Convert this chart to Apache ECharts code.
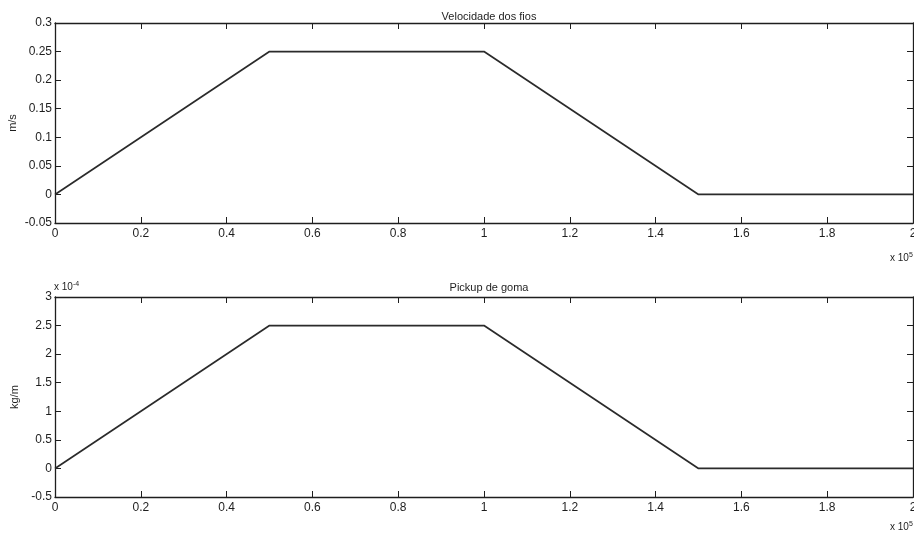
<!DOCTYPE html>
<html>
<head>
<meta charset="utf-8">
<script src="https://cdn.jsdelivr.net/npm/echarts@6/dist/echarts.min.js"></script>
<style>
  html, body { margin: 0; padding: 0; background: #fff; }
  #chart { width: 914px; height: 535px; }
</style>
</head>
<body>
<div id="chart"></div>
<script>
// Time samples (s) and the two profiles
const time = [0, 50000, 100000, 150000, 200000];
const velocity = [0, 0.25, 0.25, 0, 0];          // m/s
const pickup = [0, 2.5e-4, 2.5e-4, 0, 0];        // kg/m

const xTicks = { min: 0, max: 200000, interval: 20000 };
const vTicks = { min: -0.05, max: 0.3, interval: 0.05 };
const pTicks = { min: -0.5e-4, max: 3e-4, interval: 0.5e-4 };

const titles = ['Velocidade dos fios', 'Pickup de goma'];
const yNames = ['m/s', 'kg/m'];

const FONT = 'Liberation Sans, Arial, sans-serif';
const INK = '#1e1e1e';

const chart = echarts.init(document.getElementById('chart'));

const grids = [
  { left: 55, right: 1, top: 23, height: 200, containLabel: false, outerBoundsMode: 'none' },
  { left: 55, right: 1, top: 297, height: 200, containLabel: false, outerBoundsMode: 'none' }
];
const nameGaps = [37, 35];

function fmtNum(v) {
  const r = Math.round(v * 100) / 100;
  return String(r);
}

const xAxes = [];
const yAxes = [];
[0, 1].forEach(function (g) {
  // bottom axis with labels
  xAxes.push({
    type: 'value', gridIndex: g, position: 'bottom',
    min: xTicks.min, max: xTicks.max, interval: xTicks.interval,
    axisLine: { onZero: false, lineStyle: { color: INK, width: 1.3 } },
    axisTick: { inside: true, length: 6, lineStyle: { color: INK } },
    axisLabel: { color: INK, fontFamily: FONT, fontSize: 12, margin: 5,
      formatter: function (v) { return fmtNum(v / 1e5); } },
    splitLine: { show: false }
  });
  // top box edge with ticks only
  xAxes.push({
    type: 'value', gridIndex: g, position: 'top',
    min: xTicks.min, max: xTicks.max, interval: xTicks.interval,
    axisLine: { onZero: false, lineStyle: { color: INK, width: 1.3 } },
    axisTick: { inside: true, length: 6, lineStyle: { color: INK } },
    axisLabel: { show: false },
    splitLine: { show: false }
  });
  const t = g === 0 ? vTicks : pTicks;
  yAxes.push({
    type: 'value', gridIndex: g, position: 'left',
    min: t.min, max: t.max, interval: t.interval,
    name: yNames[g], nameLocation: 'middle', nameGap: nameGaps[g], nameRotate: 90,
    nameMoveOverlap: false,
    nameTextStyle: { color: INK, fontFamily: FONT, fontSize: 11 },
    axisLine: { onZero: false, lineStyle: { color: INK, width: 1.3 } },
    axisTick: { inside: true, length: 6, lineStyle: { color: INK } },
    axisLabel: { color: INK, fontFamily: FONT, fontSize: 12, margin: 3,
      formatter: g === 0
        ? function (v) { return fmtNum(v); }
        : function (v) { return fmtNum(v * 1e4); } },
    splitLine: { show: false }
  });
  yAxes.push({
    type: 'value', gridIndex: g, position: 'right',
    min: t.min, max: t.max, interval: t.interval,
    axisLine: { onZero: false, lineStyle: { color: INK, width: 1.3 } },
    axisTick: { inside: true, length: 6, lineStyle: { color: INK } },
    axisLabel: { show: false },
    splitLine: { show: false }
  });
});

function pairs(xs, ys) { return xs.map(function (x, i) { return [x, ys[i]]; }); }

const lineStyle = { color: '#2b2b2b', width: 1.7 };

const expStyle = {
  b: { fontFamily: FONT, fontSize: 10, fill: INK },
  s: { fontFamily: FONT, fontSize: 7, fill: INK, verticalAlign: 'top', padding: [0, 0, 6, 0] }
};

chart.setOption({
  backgroundColor: '#ffffff',
  animation: false,
  title: [
    { text: titles[0], left: 484, top: 6, textAlign: 'center',
      textStyle: { fontFamily: FONT, fontSize: 11, fontWeight: 'normal', color: INK } },
    { text: titles[1], left: 484, top: 277, textAlign: 'center',
      textStyle: { fontFamily: FONT, fontSize: 11, fontWeight: 'normal', color: INK } }
  ],
  grid: grids,
  xAxis: xAxes,
  yAxis: yAxes,
  series: [
    { type: 'line', xAxisIndex: 0, yAxisIndex: 0, data: pairs(time, velocity),
      showSymbol: false, lineStyle: lineStyle },
    { type: 'line', xAxisIndex: 2, yAxisIndex: 2, data: pairs(time, pickup),
      showSymbol: false, lineStyle: lineStyle }
  ],
  graphic: [
    { type: 'text', left: 890, top: 252, style: { text: '{b|x 10}{s|5}', rich: expStyle } },
    { type: 'text', left: 890, top: 521, style: { text: '{b|x 10}{s|5}', rich: expStyle } },
    { type: 'text', left: 54, top: 281, style: { text: '{b|x 10}{s|-4}', rich: expStyle } }
  ]
});
</script>
</body>
</html>
